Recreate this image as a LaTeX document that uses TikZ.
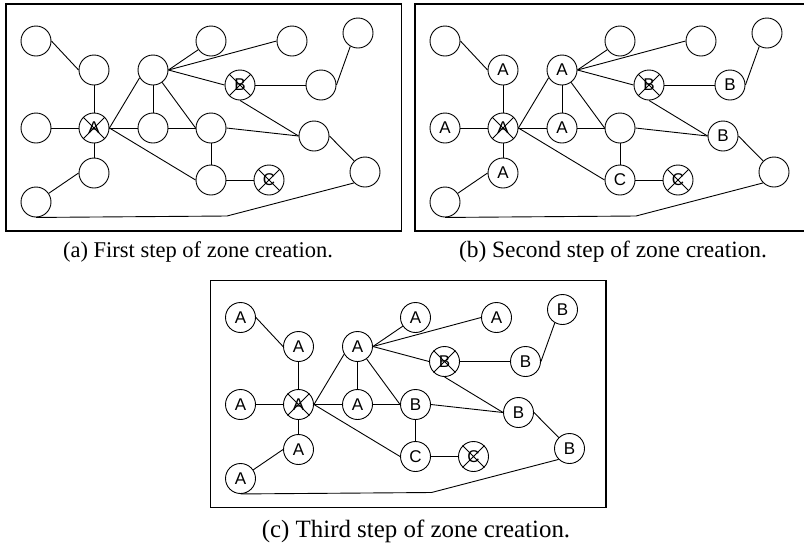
\documentclass[tikz,border=0pt]{standalone}
\usepackage{fontspec}
\setmainfont{Liberation Serif}
\setsansfont{Liberation Sans}

\tikzset{
  vtx/.style={circle, draw, line width=0.9pt, minimum size=30pt, inner sep=0pt,
    font=\sffamily\fontsize{17}{17}\selectfont},
  edge/.style={line width=0.9pt},
  panelframe/.style={line width=1.2pt},
  subcap/.style={anchor=base, inner sep=0pt}
}

% X through a vertex that is already processed
\newcommand{\crossvtx}[1]{%
  \draw[edge] (#1.north west) -- (#1.south east) (#1.north east) -- (#1.south west);}

% the edges of the graph, the same in every panel
\newcommand{\zoneedges}[1]{%
  \draw[edge] (#1-1.east) -- (#1-2.west);
  \draw[edge] (#1-2) -- (#1-10);
  \draw[edge] (#1-9) -- (#1-10);
  \draw[edge] (#1-10) -- (#1-14);
  \draw[edge] (#1-14.west) -- (#1-18);
  \draw[edge] (#1-10.east) -- (#1-3.210);
  \draw[edge] (#1-10) -- (#1-11);
  \draw[edge] (#1-10.east) -- (#1-15.west);
  \draw[edge] (#1-3) -- (#1-11);
  \draw[edge] (#1-3) -- (#1-12.west);
  \draw[edge] (#1-11) -- (#1-12.west);
  \draw[edge] (#1-3.east) -- (#1-4);
  \draw[edge] (#1-3.east) -- (#1-5.west);
  \draw[edge] (#1-3.east) -- (#1-7.west);
  \draw[edge] (#1-7) -- (#1-8);
  \draw[edge] (#1-8.east) -- (#1-6.240);
  \draw[edge] (#1-7.south) -- (#1-13.west);
  \draw[edge] (#1-12.east) -- (#1-13.west);
  \draw[edge] (#1-12) -- (#1-15);
  \draw[edge] (#1-15) -- (#1-16);
  \draw[edge] (#1-13.east) -- (#1-17);
  \draw[edge] (#1-17.south west) -- (#1-corner) -- (#1-18.south);
  \crossvtx{#1-7}
  \crossvtx{#1-10}
  \crossvtx{#1-16}
  \draw[panelframe] (6,4) rectangle (401.5,231);
}

\begin{document}
\begin{tikzpicture}[x=1pt, y=-1pt]
  \clip (0,0) rectangle (804,542);

  % (a) first step
  \begin{scope}
    \foreach \i/\x/\y/\t in {1/36/41/{}, 2/94/70/{}, 3/153/70/{}, 4/211/41/{},
        5/292/41/{}, 6/358/33/{}, 7/240/85/B, 8/321/85/{}, 9/36/128/{},
        10/94/128/A, 11/153/128/{}, 12/211/128/{}, 13/314/136/{},
        14/94/173/{}, 15/211/180/{}, 16/269/180/C, 17/365/172/{}, 18/36/202/{}}
      \node[vtx] (a-\i) at (\x,\y) {\t};
    \coordinate (a-corner) at (227,216);
    \zoneedges{a}
  \end{scope}
  \node[subcap, font=\fontsize{22.5}{22.5}\selectfont] (capa) at (198,257)
    {(a) First step of zone creation.};

  % (b) second step
  \begin{scope}[shift={(409,0)}]
    \foreach \i/\x/\y/\t in {1/36/41/{}, 2/94/70/A, 3/153/70/A, 4/211/41/{},
        5/292/41/{}, 6/358/33/{}, 7/240/85/B, 8/321/85/B, 9/36/128/A,
        10/94/128/A, 11/153/128/A, 12/211/128/{}, 13/314/136/B,
        14/94/173/A, 15/211/180/C, 16/269/180/C, 17/365/172/{}, 18/36/202/{}}
      \node[vtx] (b-\i) at (\x,\y) {\t};
    \coordinate (b-corner) at (227,216);
    \zoneedges{b}
  \end{scope}
  \node[subcap, font=\fontsize{23.4}{23.4}\selectfont] (capb) at (613,257)
    {(b) Second step of zone creation.};

  % (c) third step
  \begin{scope}[shift={(204.5,276.5)}]
    \foreach \i/\x/\y/\t in {1/36/41/A, 2/94/70/A, 3/153/70/A, 4/211/41/A,
        5/292/41/A, 6/358/33/B, 7/240/85/B, 8/321/85/B, 9/36/128/A,
        10/94/128/A, 11/153/128/A, 12/211/128/B, 13/314/136/B,
        14/94/173/A, 15/211/180/C, 16/269/180/C, 17/365/172/B, 18/36/202/A}
      \node[vtx] (c-\i) at (\x,\y) {\t};
    \coordinate (c-corner) at (227,216);
    \zoneedges{c}
  \end{scope}
  \node[subcap, font=\fontsize{24.9}{24.9}\selectfont] (capc) at (416,537)
    {(c) Third step of zone creation.};
\end{tikzpicture}
\end{document}
